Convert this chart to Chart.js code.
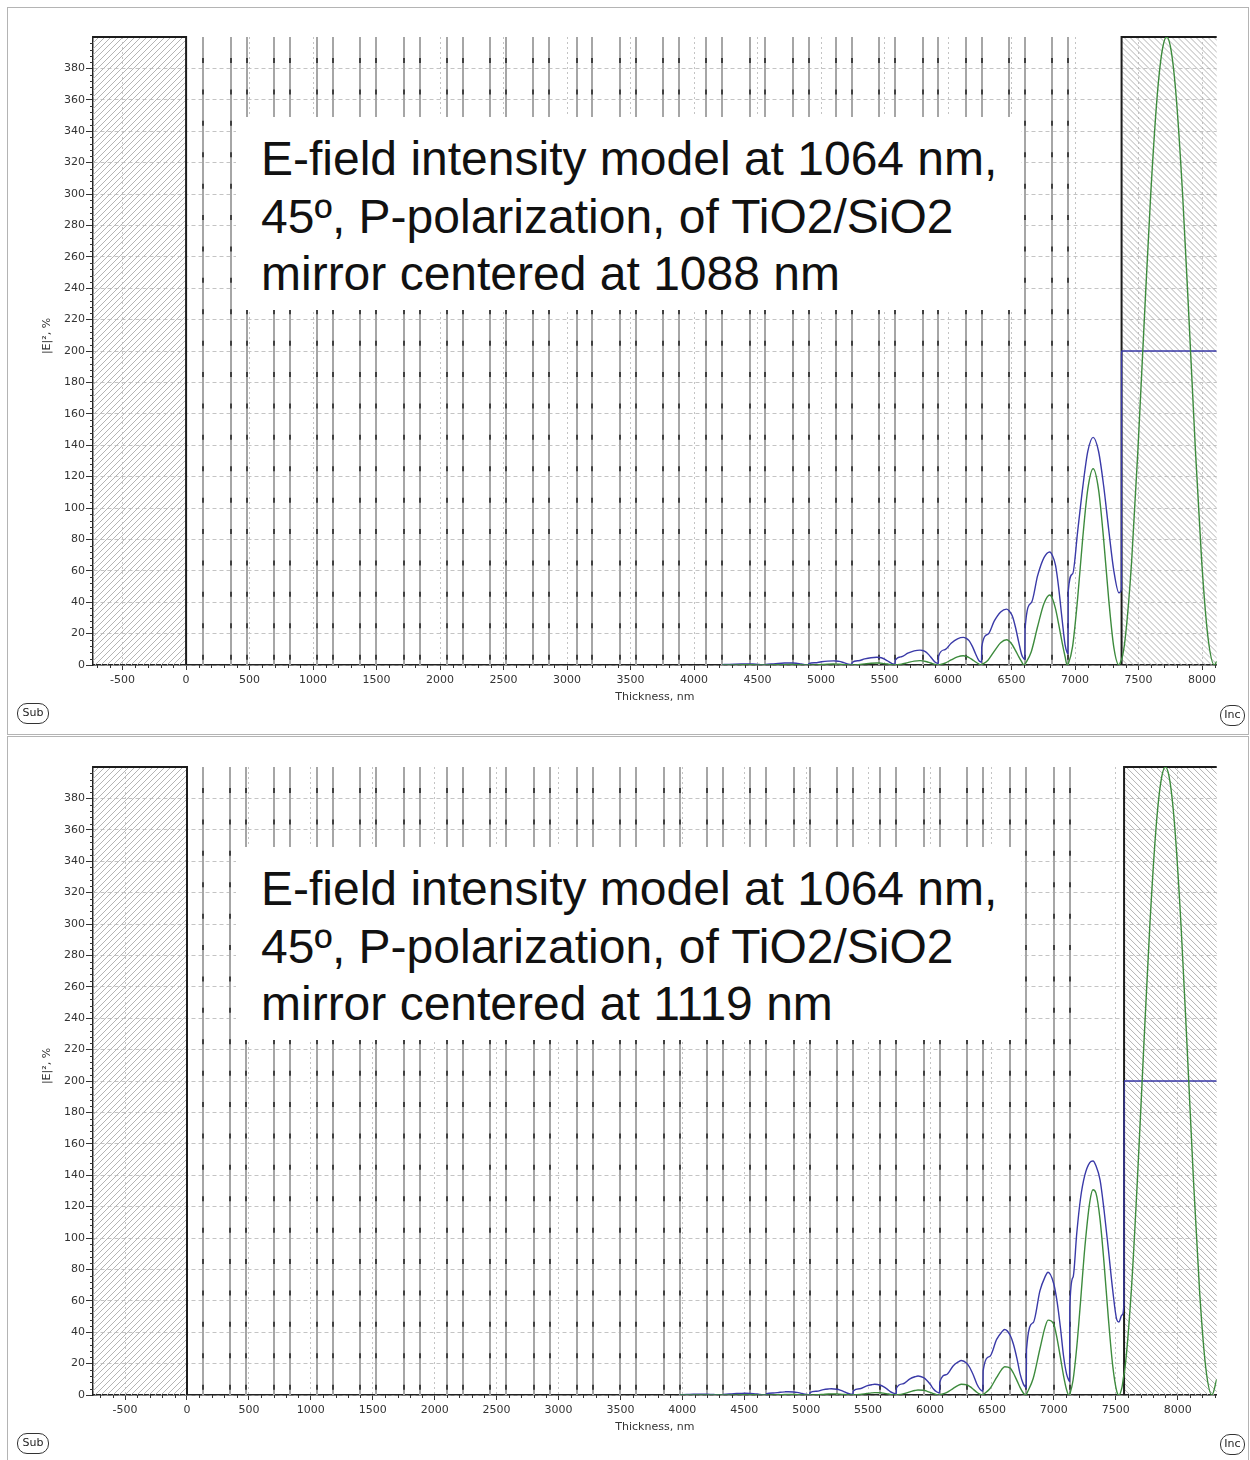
<!DOCTYPE html>
<html>
<head>
<meta charset="utf-8">
<title>E-field intensity model</title>
<script src="https://cdn.jsdelivr.net/npm/chart.js@4.4.1/dist/chart.umd.min.js"></script>
<style>
  body { margin: 0; background: #fff; }
  #page { position: relative; width: 1250px; height: 1460px; overflow: hidden; background: #fff; }
  .panel { position: absolute; left: 7px; width: 1242px; border: 1px solid #b4b4b4; box-sizing: border-box; }
  .plot { position: absolute; left: 8px; width: 1240px; height: 722px; }
  .note { position: absolute; left: 236px; width: 785px; height: 193px; box-sizing: border-box;
          padding: 13px 0 0 25px; background: #fff; color: #111; white-space: nowrap;
          font-family: "Liberation Sans", Arial, sans-serif; font-size: 48px; line-height: 57.5px; }
  .tag { position: absolute; height: 21px; box-sizing: border-box; border: 1.5px solid #333; border-radius: 10px;
         font: 11px "DejaVu Sans", sans-serif; line-height: 18px; text-align: center; color: #222; }
</style>
</head>
<body>
<div id="page">
  <div class="panel" style="top:7px;height:728px"></div>
  <div class="panel" style="top:736px;height:740px"></div>
  <div class="plot" style="top:8px"><canvas id="topChart" width="1240" height="722"></canvas></div>
  <div class="plot" style="top:738px"><canvas id="botChart" width="1240" height="722"></canvas></div>
  <div class="note" style="top:117px">E-field intensity model at 1064 nm,<br>45º, P-polarization, of TiO2/SiO2<br>mirror centered at 1088 nm</div>
  <div class="note" style="top:847px">E-field intensity model at 1064 nm,<br>45º, P-polarization, of TiO2/SiO2<br>mirror centered at 1119 nm</div>
  <div class="tag" style="left:17px;top:703px;width:32px">Sub</div>
  <div class="tag" style="left:1220px;top:705px;width:25px">Inc</div>
  <div class="tag" style="left:17px;top:1433px;width:32px">Sub</div>
  <div class="tag" style="left:1220px;top:1434px;width:25px">Inc</div>
</div>
<script>
// ---- top panel: mirror centered at 1088 nm (thickness in nm, |E|^2 in %) ----
const topRange = [-733, 8115];
const topIncident = 7366;
const topLayers = [136, 352, 476, 692, 817, 1033, 1157, 1373, 1498, 1714, 1838, 2054, 2179, 2395,
  2519, 2735, 2860, 3076, 3200, 3416, 3541, 3757, 3881, 4097, 4221, 4437, 4562, 4778, 4902, 5118,
  5243, 5459, 5583, 5799, 5924, 6140, 6264, 6480, 6605, 6821, 6945];
const topX = [
  4222, 4271, 4321, 4371, 4417, 4437, 4462, 4487, 4514, 4537, 4554, 4561,
  4563, 4612, 4662, 4712, 4758, 4778, 4803, 4828, 4855, 4878, 4894, 4901,
  4903, 4952, 5002, 5052, 5098, 5118, 5143, 5168, 5195, 5218, 5235, 5242,
  5244, 5293, 5343, 5393, 5439, 5459, 5484, 5509, 5536, 5559, 5575, 5582,
  5584, 5633, 5683, 5733, 5779, 5799, 5824, 5849, 5876, 5899, 5916, 5923,
  5925, 5974, 6024, 6074, 6120, 6140, 6165, 6190, 6217, 6240, 6256, 6263,
  6265, 6314, 6364, 6414, 6460, 6480, 6505, 6530, 6557, 6580, 6597, 6604,
  6606, 6655, 6705, 6755, 6801, 6821, 6846, 6871, 6898, 6921, 6937, 6944,
  6946, 6980, 7020, 7060, 7100, 7142, 7185, 7225, 7265, 7305, 7345, 7365,
  7366, 7395, 7445, 7495, 7545, 7595, 7645, 7685, 7721, 7757, 7797, 7847, 7897, 7947, 7997, 8047, 8097, 8115
];
const topBlue = [
  0.22, 0.39, 0.55, 0.67, 0.7, 0.68, 0.62, 0.48, 0.28, 0.13, 0.08, 0.07,
  0.42, 0.72, 1.03, 1.24, 1.3, 1.26, 1.14, 0.88, 0.52, 0.23, 0.14, 0.13,
  0.83, 1.43, 2.05, 2.47, 2.6, 2.52, 2.29, 1.77, 1.04, 0.47, 0.29, 0.26,
  1.57, 2.7, 3.87, 4.66, 4.9, 4.75, 4.31, 3.33, 1.96, 0.88, 0.54, 0.49,
  3.04, 5.23, 7.5, 9.03, 9.5, 9.22, 8.36, 6.46, 3.8, 1.71, 1.05, 0.95,
  5.63, 9.68, 13.9, 16.7, 17.6, 17.1, 15.5, 12.0, 7.04, 3.17, 1.94, 1.76,
  11.4, 19.6, 28.1, 33.8, 35.6, 34.5, 31.3, 24.2, 14.2, 6.4, 3.9, 3.6,
  23, 39.6, 56.9, 68.4, 72, 69.8, 63.4, 49, 28.8, 13, 7.9, 7.2,
  47, 58, 85, 113, 136, 145, 136, 114, 86, 60, 46, 48,
  200, 200, 200, 200, 200, 200, 200, 200, 200, 200, 200, 200, 200, 200, 200, 200, 200, 200
];
const topGreen = [
  0, 0.03, 0.08, 0.13, 0.15, 0.14, 0.12, 0.09, 0.05, 0.02, 0, 0,
  0, 0.06, 0.17, 0.26, 0.3, 0.29, 0.24, 0.17, 0.1, 0.04, 0, 0,
  0.01, 0.11, 0.33, 0.53, 0.6, 0.57, 0.48, 0.35, 0.19, 0.07, 0, 0.01,
  0.01, 0.25, 0.72, 1.14, 1.3, 1.24, 1.04, 0.75, 0.42, 0.16, 0, 0.01,
  0.03, 0.53, 1.54, 2.46, 2.8, 2.66, 2.24, 1.62, 0.9, 0.34, 0, 0.03,
  0.06, 1.12, 3.25, 5.19, 5.9, 5.6, 4.72, 3.42, 1.89, 0.71, 0, 0.06,
  0.16, 3.06, 8.86, 14.2, 16.1, 15.3, 12.9, 9.34, 5.15, 1.93, 0, 0.16,
  0.45, 8.5, 24.5, 39.2, 44.6, 42.4, 35.7, 25.9, 14.3, 5.4, 0, 0.4,
  0.6, 11.7, 42.4, 80.7, 112, 125, 111.6, 79.8, 41.5, 11.2, 0, 3.2,
  3.3, 17.2, 65.8, 137.6, 220, 299, 361, 391, 400, 391, 361, 299, 220, 137.6, 65.8, 17.2, 0, 2.3
];

// ---- bottom panel: mirror centered at 1119 nm ----
const botRange = [-759, 8315];
const botIncident = 7567;
const botLayers = [130, 350, 480, 700, 830, 1050, 1180, 1400, 1530, 1750, 1880, 2099, 2229, 2449,
  2579, 2799, 2929, 3149, 3279, 3499, 3629, 3849, 3979, 4199, 4329, 4549, 4679, 4899, 5029, 5249,
  5379, 5599, 5728, 5948, 6078, 6298, 6428, 6648, 6778, 6998, 7128];
const botX = [
  3980, 4034, 4089, 4129, 4154, 4199, 4224, 4254, 4279, 4304, 4321, 4328,
  4330, 4384, 4439, 4479, 4504, 4549, 4574, 4604, 4629, 4654, 4671, 4678,
  4680, 4734, 4789, 4829, 4854, 4899, 4924, 4954, 4979, 5004, 5021, 5028,
  5030, 5084, 5139, 5179, 5204, 5249, 5274, 5304, 5329, 5354, 5371, 5378,
  5380, 5434, 5489, 5529, 5554, 5599, 5624, 5654, 5679, 5704, 5721, 5727,
  5729, 5783, 5838, 5878, 5903, 5948, 5973, 6003, 6028, 6053, 6070, 6077,
  6079, 6133, 6188, 6228, 6253, 6298, 6323, 6353, 6378, 6403, 6420, 6427,
  6429, 6483, 6538, 6578, 6603, 6648, 6673, 6703, 6728, 6753, 6770, 6777,
  6779, 6833, 6888, 6928, 6953, 6998, 7023, 7053, 7078, 7103, 7120, 7127,
  7129, 7155, 7185, 7215, 7250, 7290, 7316, 7340, 7373, 7405, 7440, 7475, 7508, 7525, 7550, 7566,
  7567, 7625, 7675, 7725, 7775, 7825, 7865, 7901, 7937, 7977, 8027, 8077, 8127, 8177, 8227, 8277, 8315
];
const botBlue = [
  0.2, 0.32, 0.47, 0.53, 0.55, 0.5, 0.43, 0.3, 0.18, 0.09, 0.07, 0.06,
  0.41, 0.65, 0.94, 1.06, 1.1, 1.0, 0.86, 0.61, 0.35, 0.19, 0.13, 0.12,
  0.78, 1.24, 1.79, 2.02, 2.1, 1.91, 1.64, 1.16, 0.67, 0.36, 0.25, 0.23,
  1.48, 2.36, 3.4, 3.84, 4.0, 3.64, 3.12, 2.2, 1.28, 0.68, 0.48, 0.44,
  2.52, 4.01, 5.78, 6.53, 6.8, 6.19, 5.3, 3.74, 2.18, 1.16, 0.82, 0.75,
  4.48, 7.14, 10.3, 11.6, 12.1, 11.0, 9.44, 6.66, 3.87, 2.06, 1.45, 1.33,
  8.14, 13.0, 18.7, 21.1, 22, 20.0, 17.2, 12.1, 7.04, 3.74, 2.64, 2.42,
  15.4, 24.6, 35.4, 40.0, 41.7, 37.9, 32.5, 22.9, 13.3, 7.09, 5.0, 4.59,
  28.9, 46.1, 66.5, 75.1, 78.2, 71.2, 61, 43, 25, 13.3, 9.4, 8.6,
  56, 75, 103, 125, 140, 148, 149, 146, 137, 118, 93, 67, 48, 46.5, 51, 58,
  200, 200, 200, 200, 200, 200, 200, 200, 200, 200, 200, 200, 200, 200, 200, 200, 200
];
const botGreen = [
  0, 0.02, 0.05, 0.07, 0.08, 0.08, 0.06, 0.04, 0.02, 0.01, 0, 0,
  0, 0.04, 0.11, 0.15, 0.17, 0.16, 0.13, 0.09, 0.04, 0.01, 0, 0,
  0, 0.08, 0.22, 0.32, 0.35, 0.33, 0.27, 0.18, 0.09, 0.02, 0, 0,
  0.01, 0.15, 0.43, 0.63, 0.7, 0.67, 0.55, 0.35, 0.18, 0.05, 0, 0,
  0.02, 0.33, 0.93, 1.35, 1.5, 1.43, 1.17, 0.75, 0.39, 0.11, 0, 0.01,
  0.03, 0.7, 1.98, 2.88, 3.2, 3.04, 2.5, 1.6, 0.83, 0.22, 0, 0.02,
  0.07, 1.5, 4.22, 6.12, 6.8, 6.46, 5.3, 3.4, 1.77, 0.48, 0, 0.03,
  0.18, 3.96, 11.2, 16.2, 18, 17.1, 14.0, 9.0, 4.68, 1.26, 0, 0.09,
  0.48, 10.5, 29.6, 42.9, 47.7, 45.3, 37.2, 23.9, 12.4, 3.3, 0, 0.24,
  0.6, 9.4, 30.6, 59, 93.8, 122.9, 130.7, 128.6, 111.9, 84.3, 49.1, 18.9, 2.3, 0, 4.9, 12.8,
  13, 65.8, 137.6, 220, 299, 361, 391, 400, 391, 361, 299, 220, 137.6, 65.8, 17.2, 0, 10
];

// axis ticks (both panels)
const xTickValues = [-500, 0, 500, 1000, 1500, 2000, 2500, 3000, 3500, 4000, 4500, 5000, 5500, 6000, 6500, 7000, 7500, 8000];
const yTickValues = [0, 20, 40, 60, 80, 100, 120, 140, 160, 180, 200, 220, 240, 260, 280, 300, 320, 340, 360, 380];
const yMax = 400;

Chart.defaults.font.family = 'DejaVu Sans';
Chart.defaults.font.size = 11;

const FONT = { family: 'DejaVu Sans', size: 11 };
const INK = '#333';

// hatched substrate / incident medium, layer boundaries, minor ticks
function stackPlugin(layers, incident) {
  return {
    id: 'stack',
    beforeDatasetsDraw(chart) {
      const { ctx, chartArea: a, scales: { x, y } } = chart;
      const x0 = x.getPixelForValue(0);
      const xi = x.getPixelForValue(incident);
      const h = a.bottom - a.top;
      ctx.save();
      ctx.lineWidth = 1;
      ctx.strokeStyle = '#b4b4b4';

      ctx.save();
      ctx.beginPath(); ctx.rect(a.left, a.top, x0 - a.left, h); ctx.clip();
      ctx.beginPath();
      for (let s = a.left - h; s < x0; s += 6) { ctx.moveTo(s, a.bottom); ctx.lineTo(s + h, a.top); }
      ctx.stroke();
      ctx.restore();

      ctx.save();
      ctx.beginPath(); ctx.rect(xi, a.top, a.right - xi, h); ctx.clip();
      ctx.beginPath();
      for (let s = xi - h; s < a.right; s += 6) { ctx.moveTo(s, a.top); ctx.lineTo(s + h, a.bottom); }
      ctx.stroke();
      ctx.restore();

      layers.forEach(b => {
        const px = Math.round(x.getPixelForValue(b));
        ctx.lineWidth = 2;
        ctx.strokeStyle = '#a6a6a6';
        ctx.beginPath(); ctx.moveTo(px, a.top); ctx.lineTo(px, a.bottom); ctx.stroke();
        ctx.strokeStyle = '#404040';
        ctx.beginPath();
        yTickValues.forEach(v => {
          const py = y.getPixelForValue(v + 5);
          ctx.moveTo(px, py - 2.5); ctx.lineTo(px, py + 2.5);
        });
        ctx.stroke();
      });

      ctx.strokeStyle = '#1c1c1c';
      ctx.lineWidth = 2;
      ctx.beginPath();
      ctx.moveTo(a.left, a.top); ctx.lineTo(x0, a.top); ctx.lineTo(x0, a.bottom);
      ctx.moveTo(a.right, a.top); ctx.lineTo(xi, a.top); ctx.lineTo(xi, a.bottom);
      ctx.stroke();
      ctx.restore();
    },
    afterDraw(chart) {
      const { ctx, chartArea: a, scales: { x, y } } = chart;
      ctx.save();
      ctx.strokeStyle = INK;
      ctx.lineWidth = 1;
      ctx.beginPath();
      for (let v = 4; v < yMax; v += 4) {
        if (v % 20 === 0) continue;
        const py = Math.round(y.getPixelForValue(v)) + 0.5;
        ctx.moveTo(a.left - 3, py); ctx.lineTo(a.left, py);
      }
      for (let t = Math.ceil(x.min / 100) * 100; t <= x.max; t += 100) {
        if (t % 500 === 0) continue;
        const px = Math.round(x.getPixelForValue(t)) + 0.5;
        ctx.moveTo(px, a.bottom); ctx.lineTo(px, a.bottom + 3);
      }
      ctx.stroke();

      // y axis title
      ctx.fillStyle = INK;
      ctx.font = '11px "DejaVu Sans"';
      ctx.textAlign = 'center';
      ctx.textBaseline = 'middle';
      ctx.translate(39, 328);
      ctx.rotate(-Math.PI / 2);
      ctx.fillText('|E|², %', 0, 0);
      ctx.restore();
    }
  };
}

const pts = (xs, ys) => xs.map((x, i) => ({ x, y: ys[i] }));

function makeChart(id, range, layers, incident, xs, blue, green) {
  return new Chart(document.getElementById(id), {
    type: 'line',
    data: {
      datasets: [
        { label: 'green', data: pts(xs, green), borderColor: '#3d8b3d', borderWidth: 1.4,
          pointRadius: 0, fill: false, cubicInterpolationMode: 'monotone' },
        { label: 'blue', data: pts(xs, blue), borderColor: '#3a3aa8', borderWidth: 1.4,
          pointRadius: 0, fill: false, cubicInterpolationMode: 'monotone' },
      ],
    },
    options: {
      responsive: false,
      maintainAspectRatio: false,
      animation: false,
      events: [],
      layout: { padding: { top: 29, right: 31.3, bottom: 19, left: 0 } },
      plugins: { legend: { display: false }, tooltip: { enabled: false } },
      scales: {
        x: {
          type: 'linear',
          min: range[0],
          max: range[1],
          afterFit: s => { s.height = 46; },
          afterBuildTicks: s => { s.ticks = xTickValues.map(value => ({ value })); },
          ticks: { autoSkip: false, maxRotation: 0, padding: 4, color: INK, font: FONT,
                   callback: v => String(v) },
          grid: { color: '#c4c4c4', lineWidth: 1, tickLength: 5, tickColor: INK, tickWidth: 1 },
          border: { color: '#222', width: 1.5, dash: [2, 3] },
          title: { display: true, text: 'Thickness, nm', color: INK, font: FONT,
                   padding: { top: 0, bottom: 7 } },
        },
        y: {
          type: 'linear',
          min: 0,
          max: yMax,
          afterFit: s => { s.width = 85; },
          afterBuildTicks: s => { s.ticks = yTickValues.map(value => ({ value })); },
          ticks: { autoSkip: false, padding: 1, color: INK, font: FONT, callback: v => String(v) },
          grid: { color: '#c4c4c4', lineWidth: 1, tickLength: 7, tickColor: INK, tickWidth: 1 },
          border: { color: '#222', width: 1.5, dash: [4, 3] },
        },
      },
    },
    plugins: [stackPlugin(layers, incident)],
  });
}

makeChart('topChart', topRange, topLayers, topIncident, topX, topBlue, topGreen);
makeChart('botChart', botRange, botLayers, botIncident, botX, botBlue, botGreen);
</script>
</body>
</html>
